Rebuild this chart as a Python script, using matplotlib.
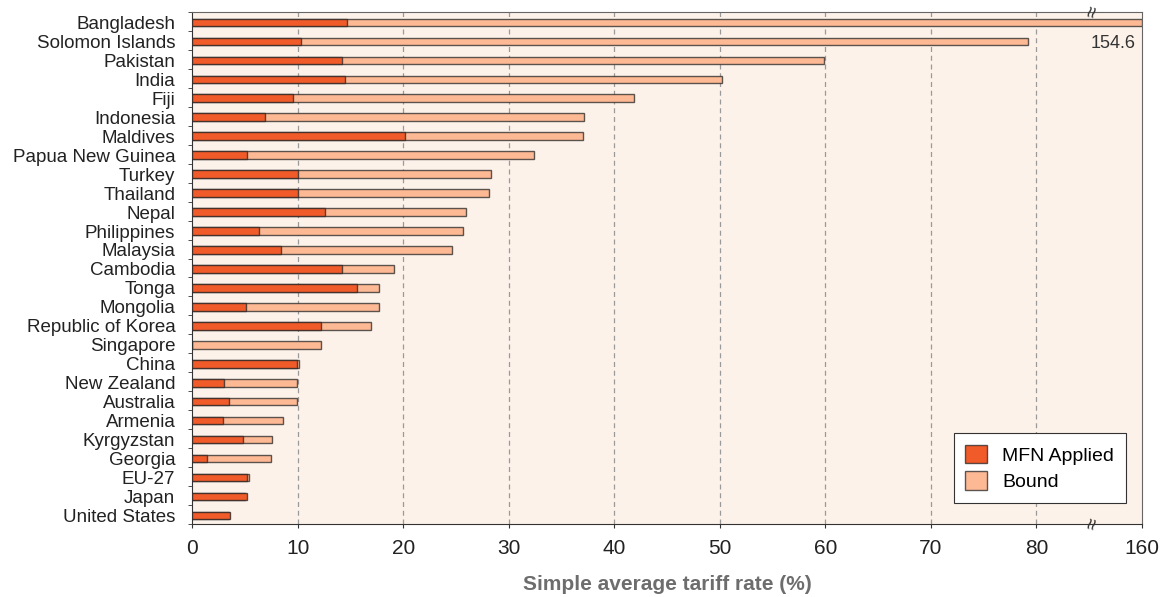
#!/usr/bin/env python3
import matplotlib
matplotlib.use('Agg')
import matplotlib.pyplot as plt
import numpy as np

countries = ['Bangladesh', 'Solomon Islands', 'Pakistan', 'India', 'Fiji',
             'Indonesia', 'Maldives', 'Papua New Guinea', 'Turkey', 'Thailand',
             'Nepal', 'Philippines', 'Malaysia', 'Cambodia', 'Tonga', 'Mongolia',
             'Republic of Korea', 'Singapore', 'China', 'New Zealand', 'Australia',
             'Armenia', 'Kyrgyzstan', 'Georgia', 'EU-27', 'Japan', 'United States']
mfn = [14.7, 10.3, 14.2, 14.5, 9.6, 6.9, 20.2, 5.2, 10.0, 10.0,
       12.6, 6.3, 8.4, 14.2, 15.6, 5.1, 12.2, 0.0, 9.9, 3.0, 3.5,
       2.9, 4.8, 1.4, 5.2, 5.2, 3.6]
bound = [154.6, 79.2, 59.9, 50.2, 41.9, 37.1, 37.0, 32.4, 28.3, 28.1,
         26.0, 25.7, 24.6, 19.1, 17.7, 17.7, 17.0, 12.2, 10.1, 9.9, 9.9,
         8.6, 7.55, 7.5, 5.35, 5.0, 3.5]
xticks = [0, 10, 20, 30, 40, 50, 60, 70, 80, 160]

BREAK = 80      # axis is broken after 80
AX_END = 160

def to_axis(v):
    # values past the break are drawn to the end of the (compressed) axis
    v = np.asarray(v, dtype=float)
    return np.where(v > BREAK, BREAK + 10, v)

c_mfn = '#F15A29'
c_bound = '#FDB994'
c_bg = '#FDF2EA'
edge = (0.15, 0.15, 0.15, 0.75)

plt.rcParams['font.family'] = ['Liberation Sans', 'DejaVu Sans']

fig = plt.figure(figsize=(11.66, 5.97), dpi=100)
ax = fig.add_axes([0.1647, 0.1223, 0.8147, 0.8576])
ax.set_facecolor(c_bg)

y = np.arange(len(countries))
h = 0.4
ax.barh(y, to_axis(bound), height=h, color=c_bound, edgecolor=edge,
        linewidth=1.0, label='Bound', zorder=3)
ax.barh(y, to_axis(mfn), height=h, color=c_mfn, edgecolor=edge,
        linewidth=1.0, label='MFN Applied', zorder=4)

ax.set_xlim(0, 90)
ax.set_ylim(len(countries) - 0.55, -0.55)

tick_pos = [t if t <= BREAK else BREAK + 10 for t in xticks]
ax.set_xticks(tick_pos)
ax.set_xticklabels([str(t) for t in xticks], fontsize=15, color='#222222')
ax.set_yticks(y)
ax.set_yticklabels(countries, fontsize=13.5, color='#222222')
ax.set_yticks(np.arange(len(countries) + 1) - 0.55, minor=True)
ax.tick_params(axis='y', which='major', length=0, pad=12)
ax.tick_params(axis='y', which='minor', length=3, color='#333333')
ax.tick_params(axis='x', length=3, color='#333333', pad=8)

for t in tick_pos[1:-1]:
    ax.axvline(t, color='#9a9a9a', linestyle=(0, (4, 3)), linewidth=0.9, zorder=1)

for s in ['top', 'right']:
    ax.spines[s].set_color('#666666')
for s in ['left', 'bottom']:
    ax.spines[s].set_color('#333333')

# break marks
bx = BREAK + 10 * 0.54
for yy in [1.0, 0.0]:
    ax.text(bx, yy, '\u2248', transform=ax.get_xaxis_transform(), rotation=75,
            ha='center', va='center', fontsize=15, color='#333333', zorder=6,
            clip_on=False)

ax.text(89.4, 1.1, f'{bound[0]}', ha='right', va='center', fontsize=13,
        color='#333333', zorder=5)

ax.set_xlabel('Simple average tariff rate (%)', fontsize=15, fontweight='bold',
              color='#6d6d6d', labelpad=12)

handles, labels = ax.get_legend_handles_labels()
leg = ax.legend(handles[::-1], labels[::-1], loc='lower right',
                bbox_to_anchor=(0.983, 0.041), borderaxespad=0, fontsize=14,
                frameon=True, fancybox=False, edgecolor='#333333', framealpha=1,
                handlelength=1.1, handleheight=1.1, borderpad=0.6,
                labelspacing=0.35)
leg.get_frame().set_linewidth(0.8)

plt.savefig('out.png', dpi=100)
plt.close()
